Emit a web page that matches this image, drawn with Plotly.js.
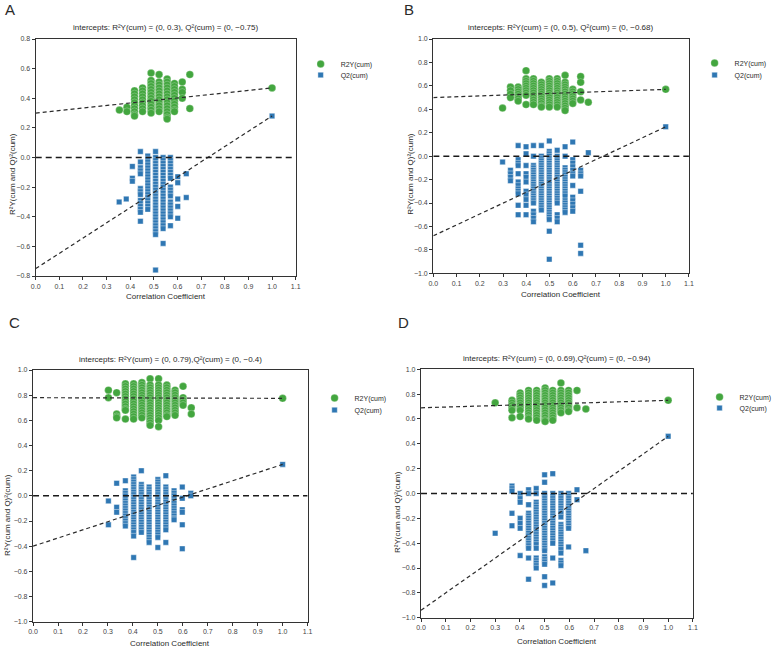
<!DOCTYPE html>
<html>
<head>
<meta charset="utf-8">
<script src="https://cdn.plot.ly/plotly-3.0.1.min.js"></script>
<style>html,body{margin:0;padding:0;background:#fff}#chart{width:777px;height:648px}</style>
</head>
<body>
<div id="chart"></div>
<script>
// ---------------- DATA ----------------
const panelLetters = ['A', 'B', 'C', 'D'];
const seriesNames = ['R2Y(cum)', 'Q2(cum)'];
const xTickLabels = ['0.0','0.1','0.2','0.3','0.4','0.5','0.6','0.7','0.8','0.9','1.0','1.1'];

// Panel A
const aR2Cols = [0.354, 0.386, 0.418, 0.452, 0.488, 0.522, 0.556, 0.587, 0.620, 0.652];
const aR2Vals = [
  [0.32],
  [0.34, 0.31],
  [0.45, 0.43, 0.41, 0.39, 0.37, 0.35, 0.33, 0.31, 0.29, 0.28],
  [0.47, 0.45, 0.43, 0.41, 0.39, 0.37, 0.35, 0.33, 0.31],
  [0.57, 0.52, 0.50, 0.48, 0.46, 0.44, 0.42, 0.40, 0.38, 0.36, 0.34, 0.32, 0.30],
  [0.56, 0.51, 0.49, 0.47, 0.45, 0.43, 0.41, 0.39, 0.37, 0.35, 0.33, 0.31],
  [0.53, 0.51, 0.49, 0.47, 0.45, 0.43, 0.41, 0.39, 0.37, 0.35, 0.33, 0.31, 0.29, 0.27, 0.26],
  [0.50, 0.48, 0.46, 0.44, 0.42, 0.40, 0.38, 0.36, 0.34, 0.32, 0.31],
  [0.51, 0.46, 0.44, 0.40],
  [0.56, 0.33]
];
const aQ2Cols = [0.353, 0.383, 0.409, 0.443, 0.474, 0.507, 0.539, 0.570, 0.601, 0.637];
const aQ2Vals = [
  [-0.30],
  [-0.28],
  [-0.06, -0.14, -0.16],
  [0.04, -0.03, -0.07, -0.09, -0.11, -0.21, -0.23, -0.25, -0.29, -0.31, -0.33, -0.35, -0.37, -0.43],
  [0.01, -0.01, -0.03, -0.05, -0.07, -0.09, -0.11, -0.13, -0.15, -0.17, -0.19, -0.21, -0.23, -0.25, -0.27, -0.29, -0.31, -0.33, -0.35],
  [0.04, 0.00, -0.02, -0.04, -0.06, -0.08, -0.10, -0.12, -0.14, -0.16, -0.18, -0.20, -0.22, -0.24, -0.26, -0.28, -0.30, -0.32, -0.34, -0.36, -0.38, -0.40, -0.42, -0.44, -0.46, -0.48, -0.50, -0.52, -0.76],
  [0.00, -0.02, -0.04, -0.06, -0.08, -0.10, -0.12, -0.14, -0.16, -0.18, -0.20, -0.22, -0.24, -0.26, -0.28, -0.30, -0.32, -0.34, -0.36, -0.38, -0.40, -0.42, -0.44, -0.46, -0.48, -0.58],
  [0.00, -0.02, -0.04, -0.06, -0.08, -0.10, -0.12, -0.14, -0.20, -0.22, -0.24, -0.26, -0.30, -0.32, -0.34, -0.36, -0.38, -0.40, -0.46],
  [-0.13, -0.17, -0.28, -0.33, -0.41],
  [-0.11, -0.27]
];
const aOriginal = [0.47, 0.28];      // R2Y, Q2 at correlation 1.0
const aIntercepts = [0.30, -0.75];   // R2Y, Q2

// Panel B
const bR2Cols = [0.298, 0.332, 0.365, 0.399, 0.431, 0.465, 0.499, 0.533, 0.567, 0.600, 0.634, 0.667];
const bR2Vals = [
  [0.41],
  [0.59, 0.56, 0.53, 0.50],
  [0.59, 0.57, 0.55, 0.53, 0.51, 0.49, 0.47],
  [0.73, 0.66, 0.64, 0.62, 0.60, 0.58, 0.56, 0.54, 0.52, 0.44],
  [0.66, 0.64, 0.62, 0.60, 0.58, 0.56, 0.54, 0.52, 0.50, 0.48, 0.46, 0.44],
  [0.63, 0.61, 0.59, 0.57, 0.55, 0.53, 0.51, 0.49, 0.47, 0.45, 0.43, 0.42],
  [0.66, 0.64, 0.62, 0.60, 0.58, 0.56, 0.54, 0.52, 0.50, 0.48, 0.46, 0.44, 0.42],
  [0.66, 0.64, 0.62, 0.60, 0.58, 0.56, 0.54, 0.52, 0.50, 0.48, 0.46, 0.44, 0.42],
  [0.69, 0.63, 0.61, 0.59, 0.57, 0.55, 0.53, 0.51, 0.49, 0.47, 0.45, 0.43, 0.41, 0.39],
  [0.57, 0.55, 0.53, 0.51, 0.49, 0.47, 0.45],
  [0.68, 0.63, 0.55, 0.48],
  [0.46]
];
const bQ2Cols = [0.298, 0.332, 0.365, 0.399, 0.431, 0.465, 0.499, 0.533, 0.567, 0.600, 0.634, 0.667];
const bQ2Vals = [
  [-0.05],
  [-0.12, -0.15, -0.18, -0.21],
  [0.09, -0.03, -0.06, -0.08, -0.15, -0.22, -0.25, -0.28, -0.30, -0.32, -0.42, -0.50],
  [0.08, 0.02, -0.08, -0.15, -0.18, -0.22, -0.30, -0.33, -0.37, -0.42, -0.50],
  [0.09, 0.00, -0.08, -0.10, -0.12, -0.14, -0.16, -0.18, -0.20, -0.22, -0.24, -0.26, -0.28, -0.30, -0.32, -0.34, -0.36, -0.38, -0.40, -0.47, -0.50, -0.53, -0.56],
  [0.09, 0.00, -0.02, -0.04, -0.06, -0.08, -0.10, -0.12, -0.14, -0.16, -0.18, -0.20, -0.22, -0.24, -0.26, -0.28, -0.30, -0.32, -0.34, -0.36, -0.38, -0.40, -0.42, -0.44, -0.46],
  [0.13, 0.04, 0.02, 0.00, -0.02, -0.04, -0.06, -0.08, -0.10, -0.12, -0.14, -0.16, -0.18, -0.20, -0.22, -0.24, -0.26, -0.28, -0.30, -0.32, -0.34, -0.36, -0.38, -0.40, -0.42, -0.44, -0.46, -0.48, -0.50, -0.52, -0.54, -0.64, -0.88],
  [0.05, 0.00, -0.02, -0.04, -0.06, -0.08, -0.10, -0.12, -0.14, -0.16, -0.18, -0.20, -0.22, -0.24, -0.26, -0.28, -0.30, -0.32, -0.34, -0.36, -0.38, -0.40, -0.50, -0.53, -0.56],
  [0.08, 0.00, -0.10, -0.12, -0.14, -0.16, -0.18, -0.20, -0.22, -0.24, -0.26, -0.28, -0.30, -0.32, -0.34, -0.38, -0.40, -0.42, -0.44, -0.46, -0.48],
  [0.12, -0.03, -0.06, -0.09, -0.12, -0.15, -0.17, -0.25, -0.35, -0.38, -0.41, -0.44, -0.47],
  [-0.12, -0.15, -0.17, -0.30, -0.76, -0.83],
  [0.03]
];
const bOriginal = [0.57, 0.25];
const bIntercepts = [0.50, -0.68];

// Panel C
const cR2Cols = [0.302, 0.335, 0.370, 0.403, 0.436, 0.469, 0.503, 0.536, 0.569, 0.601, 0.634];
const cR2Vals = [
  [0.84, 0.78],
  [0.82, 0.65, 0.63, 0.62],
  [0.89, 0.87, 0.85, 0.83, 0.81, 0.79, 0.77, 0.75, 0.73, 0.71, 0.69, 0.68, 0.61],
  [0.89, 0.87, 0.85, 0.83, 0.81, 0.79, 0.77, 0.75, 0.73, 0.71, 0.69, 0.67, 0.65, 0.63, 0.61],
  [0.90, 0.88, 0.86, 0.84, 0.82, 0.80, 0.78, 0.76, 0.74, 0.72, 0.70, 0.68, 0.66, 0.64, 0.62],
  [0.93, 0.88, 0.86, 0.84, 0.82, 0.80, 0.78, 0.76, 0.74, 0.72, 0.70, 0.68, 0.66, 0.64, 0.62, 0.60, 0.58, 0.56],
  [0.93, 0.88, 0.86, 0.84, 0.82, 0.80, 0.78, 0.76, 0.74, 0.72, 0.70, 0.68, 0.66, 0.64, 0.62, 0.60, 0.55],
  [0.88, 0.86, 0.84, 0.82, 0.80, 0.78, 0.76, 0.74, 0.72, 0.70, 0.68, 0.66, 0.64, 0.63],
  [0.84, 0.82, 0.80, 0.78, 0.76, 0.74, 0.72, 0.70, 0.68, 0.66, 0.64],
  [0.87, 0.78, 0.76, 0.74, 0.72],
  [0.70, 0.65]
];
const cQ2Cols = [0.302, 0.335, 0.370, 0.403, 0.434, 0.465, 0.500, 0.532, 0.565, 0.598, 0.632];
const cQ2Vals = [
  [-0.04, -0.23],
  [0.10, -0.09, -0.13],
  [0.12, 0.04, 0.02, 0.00, -0.02, -0.04, -0.06, -0.08, -0.10, -0.12, -0.14, -0.16, -0.18, -0.20, -0.22, -0.24],
  [0.15, 0.13, 0.11, 0.09, 0.07, 0.05, 0.03, 0.01, -0.01, -0.03, -0.05, -0.07, -0.09, -0.11, -0.13, -0.15, -0.17, -0.19, -0.21, -0.23, -0.25, -0.27, -0.29, -0.32, -0.49],
  [0.20, 0.09, 0.07, 0.05, 0.03, 0.01, -0.01, -0.03, -0.05, -0.07, -0.09, -0.11, -0.13, -0.15, -0.17, -0.19, -0.21, -0.23, -0.25, -0.27, -0.29],
  [0.07, 0.05, 0.03, 0.01, -0.01, -0.03, -0.05, -0.07, -0.09, -0.11, -0.13, -0.15, -0.17, -0.19, -0.21, -0.23, -0.25, -0.27, -0.29, -0.31, -0.33, -0.35, -0.37],
  [0.13, 0.11, 0.09, 0.07, 0.05, 0.03, 0.01, -0.01, -0.03, -0.05, -0.07, -0.09, -0.11, -0.13, -0.15, -0.17, -0.19, -0.21, -0.23, -0.25, -0.27, -0.29, -0.31, -0.33, -0.41],
  [0.16, 0.07, 0.05, 0.03, 0.01, -0.01, -0.03, -0.05, -0.07, -0.09, -0.11, -0.13, -0.15, -0.17, -0.19, -0.21, -0.23, -0.25, -0.27, -0.37],
  [0.04, 0.02, 0.00, -0.02, -0.04, -0.06, -0.08, -0.10, -0.12, -0.14, -0.16, -0.18, -0.19],
  [0.07, -0.02, -0.11, -0.13, -0.23, -0.42],
  [0.02, 0.00]
];
const cOriginal = [0.775, 0.25];
const cIntercepts = [0.78, -0.40];

// Panel D
const dR2Cols = [0.300, 0.368, 0.401, 0.435, 0.468, 0.502, 0.533, 0.566, 0.597, 0.631, 0.667];
const dR2Vals = [
  [0.73],
  [0.75, 0.73, 0.71, 0.69, 0.67, 0.61],
  [0.81, 0.79, 0.77, 0.75, 0.73, 0.71, 0.69, 0.67, 0.62],
  [0.83, 0.81, 0.79, 0.77, 0.75, 0.73, 0.71, 0.69, 0.67, 0.65, 0.63, 0.61, 0.60],
  [0.83, 0.81, 0.79, 0.77, 0.75, 0.73, 0.71, 0.69, 0.67, 0.65, 0.63, 0.61, 0.59],
  [0.85, 0.83, 0.81, 0.79, 0.77, 0.75, 0.73, 0.71, 0.69, 0.67, 0.65, 0.63, 0.61, 0.59, 0.58],
  [0.83, 0.81, 0.79, 0.77, 0.75, 0.73, 0.71, 0.69, 0.67, 0.65, 0.63, 0.61, 0.59],
  [0.89, 0.83, 0.81, 0.79, 0.77, 0.75, 0.73, 0.71, 0.69, 0.67, 0.65],
  [0.83, 0.81, 0.79, 0.77, 0.75, 0.73, 0.71, 0.69, 0.67, 0.66],
  [0.83, 0.69],
  [0.68]
];
const dQ2Cols = [0.300, 0.368, 0.401, 0.435, 0.466, 0.500, 0.533, 0.566, 0.597, 0.631, 0.667];
const dQ2Vals = [
  [-0.32],
  [0.06, 0.04, 0.02, -0.16, -0.26],
  [0.00, -0.04, -0.07, -0.20, -0.24, -0.28, -0.50],
  [0.03, 0.00, -0.09, -0.16, -0.18, -0.20, -0.22, -0.24, -0.26, -0.28, -0.30, -0.32, -0.34, -0.36, -0.38, -0.40, -0.42, -0.44, -0.52, -0.69],
  [0.04, 0.00, -0.07, -0.09, -0.11, -0.13, -0.15, -0.17, -0.19, -0.21, -0.23, -0.25, -0.27, -0.29, -0.31, -0.33, -0.35, -0.37, -0.39, -0.41, -0.44, -0.52, -0.54, -0.56, -0.58, -0.60],
  [0.15, 0.09, 0.00, -0.02, -0.04, -0.06, -0.08, -0.10, -0.12, -0.14, -0.16, -0.18, -0.20, -0.22, -0.24, -0.26, -0.28, -0.30, -0.32, -0.34, -0.36, -0.38, -0.40, -0.42, -0.44, -0.46, -0.51, -0.53, -0.55, -0.57, -0.67, -0.74],
  [0.16, 0.00, -0.02, -0.04, -0.06, -0.08, -0.10, -0.12, -0.14, -0.16, -0.18, -0.20, -0.22, -0.24, -0.26, -0.28, -0.30, -0.32, -0.34, -0.36, -0.38, -0.40, -0.52, -0.72],
  [0.00, -0.02, -0.04, -0.06, -0.08, -0.10, -0.12, -0.14, -0.16, -0.19, -0.25, -0.27, -0.29, -0.31, -0.33, -0.35, -0.37, -0.39, -0.41, -0.43, -0.45, -0.48, -0.54, -0.56, -0.58],
  [0.00, -0.02, -0.04, -0.06, -0.08, -0.10, -0.12, -0.14, -0.16, -0.18, -0.20, -0.22, -0.24, -0.26, -0.28, -0.43],
  [0.03, -0.05],
  [-0.46]
];
const dOriginal = [0.75, 0.46];
const dIntercepts = [0.69, -0.94];

const titleTexts = [
  'intercepts: R\u00b2Y(cum) = (0, 0.3), Q\u00b2(cum) = (0, \u22120.75)',
  'intercepts: R\u00b2Y(cum) = (0, 0.5), Q\u00b2(cum) = (0, \u22120.68)',
  'intercepts: R\u00b2Y(cum) = (0, 0.79),Q\u00b2(cum) = (0, \u22120.4)',
  'intercepts: R\u00b2Y(cum) = (0, 0.69),Q\u00b2(cum) = (0, \u22120.94)'
];
const yTitleText = 'R\u00b2Y(cum and Q)\u00b2(cum)';
const xTitleText = 'Correlation Coefficient';
const yRanges = [[-0.8, 0.8], [-1, 1], [-1, 1], [-1, 1]];

// ---------------- STYLE / LAYOUT ----------------
const W = 777, H = 648;
const FONT = 'Liberation Sans, Arial, sans-serif';
const GREEN = '#43a63f', BLUE = '#2f77b3', LINE = '#2b2b2b', TXT = '#2a2a2a';
const px = v => v / W, py = v => 1 - v / H;

// plot boxes in pixels: [left, right, top, bottom]
const boxes = [[36, 298, 39, 276], [436.7, 694.3, 39, 273.3], [33.3, 310, 370, 621.7], [424.3, 698.3, 369.3, 617.7]];
// legend: [left x, R2 item y, Q2 item y]
const legendPos = [[303, 64, 75], [700, 63, 75], [317, 398, 410], [705, 397, 408]];
const letterPos = [[3, -1], [405, -1], [7, 312], [399, 312]];
const yTitleX = [12, 413, 7, 400];
const yTitleY = [174, 174, 515, 512];
const xTitleY = [296, 294, 643, 641];
const titleY = [28, 28, 359, 358];

const panels = [
  {r2c: aR2Cols, r2v: aR2Vals, q2c: aQ2Cols, q2v: aQ2Vals, orig: aOriginal, icpt: aIntercepts},
  {r2c: bR2Cols, r2v: bR2Vals, q2c: bQ2Cols, q2v: bQ2Vals, orig: bOriginal, icpt: bIntercepts},
  {r2c: cR2Cols, r2v: cR2Vals, q2c: cQ2Cols, q2v: cQ2Vals, orig: cOriginal, icpt: cIntercepts},
  {r2c: dR2Cols, r2v: dR2Vals, q2c: dQ2Cols, q2v: dQ2Vals, orig: dOriginal, icpt: dIntercepts}
];

function flatten(cols, vals, origY) {
  const x = [], y = [];
  cols.forEach((c, i) => vals[i].forEach(v => { x.push(c); y.push(v); }));
  x.push(1.0); y.push(origY);
  return {x, y};
}

const traces = [];
const layout = {
  width: W, height: H,
  margin: {l: 0, r: 0, t: 0, b: 0},
  paper_bgcolor: '#fff', plot_bgcolor: '#fff',
  font: {family: FONT, color: TXT},
  showlegend: true,
  annotations: [],
  shapes: []
};

const legName = k => (k === 1 ? 'legend' : 'legend' + k);

panels.forEach((p, i) => {
  const n = i === 0 ? '' : String(i + 1);
  const xa = 'x' + n, ya = 'y' + n;
  const legR2 = legName(2 * i + 1), legQ2 = legName(2 * i + 2);
  const b = boxes[i];
  const r2 = flatten(p.r2c, p.r2v, p.orig[0]);
  const q2 = flatten(p.q2c, p.q2v, p.orig[1]);

  traces.push({
    type: 'scatter', mode: 'markers', x: r2.x, y: r2.y, xaxis: xa, yaxis: ya,
    name: seriesNames[0], legend: legR2,
    marker: {symbol: 'circle', size: 7.5, color: GREEN, line: {color: '#ffffff', width: 0.25}},
    hoverinfo: 'x+y'
  });
  traces.push({
    type: 'scatter', mode: 'markers', x: q2.x, y: q2.y, xaxis: xa, yaxis: ya,
    name: seriesNames[1], legend: legQ2,
    marker: {symbol: 'square', size: 5.5, color: BLUE, line: {color: '#ffffff', width: 0.4}},
    hoverinfo: 'x+y'
  });
  // regression lines: intercept -> original model
  traces.push({
    type: 'scatter', mode: 'lines', x: [0, 1], y: [p.icpt[0], p.orig[0]], xaxis: xa, yaxis: ya,
    showlegend: false, hoverinfo: 'skip', line: {color: LINE, width: 1.2, dash: '4px,3px'}
  });
  traces.push({
    type: 'scatter', mode: 'lines', x: [0, 1], y: [p.icpt[1], p.orig[1]], xaxis: xa, yaxis: ya,
    showlegend: false, hoverinfo: 'skip', line: {color: LINE, width: 1.2, dash: '4px,3px'}
  });
  // zero reference line
  traces.push({
    type: 'scatter', mode: 'lines', x: [0, 1.1], y: [0, 0], xaxis: xa, yaxis: ya,
    showlegend: false, hoverinfo: 'skip', line: {color: '#1a1a1a', width: 1.5, dash: '6px,4px'}
  });

  const axCommon = {
    showgrid: false, zeroline: false, showline: true, mirror: true,
    linecolor: '#333', linewidth: 1.3,
    ticks: 'outside', ticklen: 3, tickwidth: 1, tickcolor: '#333',
    tickfont: {family: FONT, size: 7, color: '#444'}, tickformat: '.1f', fixedrange: true
  };
  layout['xaxis' + n] = Object.assign({}, axCommon, {
    domain: [px(b[0]), px(b[1])], range: [0, 1.1], anchor: ya,
    tickmode: 'array', tickvals: xTickLabels.map(Number), ticktext: xTickLabels
  });
  layout['yaxis' + n] = Object.assign({}, axCommon, {
    domain: [py(b[3]), py(b[2])], range: yRanges[i], anchor: xa, dtick: 0.2, tick0: 0
  });
  const legBase = {
    x: px(legendPos[i][0]), xanchor: 'left', yanchor: 'middle',
    bgcolor: 'rgba(0,0,0,0)', borderwidth: 0, font: {family: FONT, size: 7, color: TXT},
    itemclick: false, itemdoubleclick: false
  };
  layout[legR2] = Object.assign({}, legBase, {y: py(legendPos[i][1])});
  layout[legQ2] = Object.assign({}, legBase, {y: py(legendPos[i][2])});

  const cx = (b[0] + b[1]) / 2;
  layout.annotations.push(
    {text: titleTexts[i], xref: 'paper', yref: 'paper', x: px(cx), y: py(titleY[i]),
     xanchor: 'center', yanchor: 'middle', showarrow: false, font: {family: FONT, size: 8, color: TXT}},
    {text: panelLetters[i], xref: 'paper', yref: 'paper', x: px(letterPos[i][0]), y: py(letterPos[i][1]),
     xanchor: 'left', yanchor: 'top', showarrow: false, font: {family: FONT, size: 15, color: TXT}},
    {text: xTitleText, xref: 'paper', yref: 'paper', x: px(cx), y: py(xTitleY[i]),
     xanchor: 'center', yanchor: 'middle', showarrow: false, font: {family: FONT, size: 8, color: TXT}},
    {text: yTitleText, xref: 'paper', yref: 'paper', x: px(yTitleX[i]), y: py(yTitleY[i]),
     xanchor: 'center', yanchor: 'middle', textangle: -90, showarrow: false, font: {family: FONT, size: 8, color: TXT}}
  );
});

Plotly.newPlot('chart', traces, layout, {displayModeBar: false});
</script>
</body>
</html>
